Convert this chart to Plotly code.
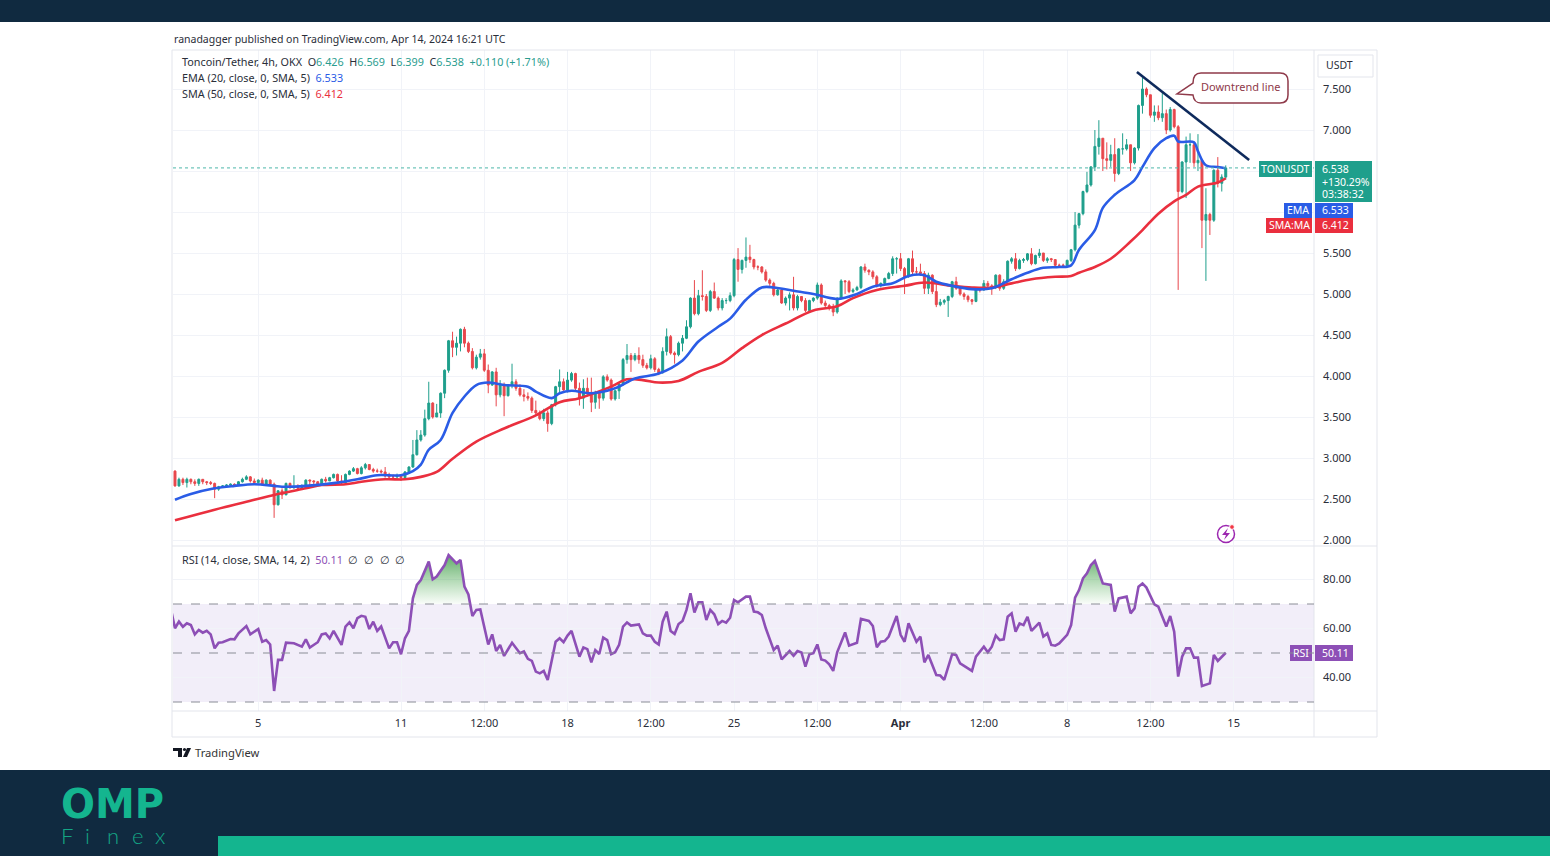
import plotly.graph_objects as go
from plotly.subplots import make_subplots

W, H = 1550, 856

# 4h candles, one value per bar
closes = [
    2.66, 2.74, 2.70, 2.74, 2.71, 2.69, 2.74, 2.71, 2.70, 2.69,
    2.62, 2.65, 2.66, 2.67, 2.68, 2.67, 2.71, 2.74, 2.77, 2.72,
    2.70, 2.73, 2.68, 2.73, 2.68, 2.43, 2.60, 2.55, 2.69, 2.64,
    2.65, 2.63, 2.64, 2.73, 2.72, 2.71, 2.68, 2.74, 2.72, 2.76,
    2.80, 2.72, 2.70, 2.80, 2.84, 2.87, 2.81, 2.88, 2.92, 2.86,
    2.84, 2.84, 2.83, 2.78, 2.77, 2.77, 2.78, 2.76, 2.83, 2.89,
    3.04, 3.22, 3.28, 3.48, 3.67, 3.50, 3.55, 3.79, 4.07, 4.43,
    4.35, 4.40, 4.57, 4.40, 4.30, 4.10, 4.23, 4.27, 4.07, 3.89,
    4.05, 3.77, 3.89, 3.76, 3.89, 3.93, 3.85, 3.77, 3.75, 3.73,
    3.58, 3.55, 3.48, 3.55, 3.42, 3.65, 3.87, 3.93, 3.83, 3.95,
    4.03, 3.85, 3.73, 3.85, 3.80, 3.68, 3.80, 3.73, 3.99, 3.95,
    3.72, 3.82, 3.90, 4.20, 4.25, 4.20, 4.25, 4.20, 4.13, 4.10,
    4.21, 4.08, 4.04, 4.30, 4.48, 4.28, 4.26, 4.40, 4.46, 4.60,
    4.95, 4.76, 4.98, 4.97, 4.80, 5.03, 4.95, 4.83, 4.92, 4.92,
    4.98, 5.42, 5.30, 5.41, 5.45, 5.42, 5.33, 5.33, 5.27, 5.17,
    5.13, 4.99, 5.05, 4.89, 4.95, 4.99, 4.83, 4.97, 4.92, 4.80,
    4.92, 4.95, 5.11, 4.89, 4.86, 4.84, 4.78, 4.95, 5.16, 5.15,
    5.03, 5.05, 5.08, 5.33, 5.29, 5.27, 5.21, 5.10, 5.13, 5.19,
    5.25, 5.43, 5.43, 5.31, 5.21, 5.43, 5.27, 5.27, 5.25, 5.07,
    5.23, 5.03, 4.87, 4.90, 4.92, 4.97, 5.15, 5.07, 5.00, 4.97,
    4.93, 4.91, 5.06, 5.05, 5.13, 5.10, 5.08, 5.23, 5.07, 5.15,
    5.40, 5.43, 5.31, 5.41, 5.42, 5.49, 5.37, 5.47, 5.50, 5.41,
    5.43, 5.42, 5.35, 5.35, 5.35, 5.41, 5.54, 5.84, 5.98, 6.25,
    6.33, 6.55, 6.80, 6.90, 6.65, 6.63, 6.70, 6.47, 6.77, 6.77,
    6.82, 6.60, 6.78, 7.30, 7.50, 7.43, 7.18, 7.22, 7.15, 7.20,
    7.00, 7.25, 7.04, 6.25, 6.61, 6.82, 6.82, 6.60, 6.63, 5.90,
    5.97, 5.90, 6.51, 6.35, 6.426, 6.538,
]
highs = [
    2.85, 2.76, 2.76, 2.76, 2.75, 2.74, 2.75, 2.74, 2.72, 2.72,
    2.70, 2.66, 2.67, 2.68, 2.69, 2.69, 2.72, 2.76, 2.79, 2.78,
    2.75, 2.74, 2.76, 2.74, 2.74, 2.70, 2.61, 2.63, 2.70, 2.70,
    2.79, 2.68, 2.68, 2.74, 2.74, 2.73, 2.72, 2.75, 2.77, 2.77,
    2.81, 2.81, 2.79, 2.81, 2.85, 2.89, 2.88, 2.90, 2.94, 2.92,
    2.88, 2.87, 2.86, 2.89, 2.82, 2.80, 2.81, 2.80, 2.84, 2.90,
    3.22, 3.34, 3.34, 3.59, 3.93, 3.68, 3.66, 3.80, 4.08, 4.44,
    4.54, 4.48, 4.58, 4.60, 4.42, 4.34, 4.26, 4.33, 4.33, 4.14,
    4.06, 4.10, 3.95, 3.92, 3.90, 4.15, 3.96, 3.90, 3.84, 3.80,
    3.75, 3.70, 3.58, 3.60, 3.58, 3.66, 3.88, 4.08, 3.97, 4.05,
    4.05, 4.04, 3.92, 3.96, 3.98, 3.98, 3.82, 3.82, 4.01, 4.02,
    3.97, 3.83, 3.92, 4.22, 4.39, 4.28, 4.28, 4.35, 4.26, 4.16,
    4.26, 4.23, 4.10, 4.35, 4.58, 4.50, 4.30, 4.42, 4.50, 4.68,
    4.96, 5.17, 5.05, 5.29, 5.00, 5.05, 5.14, 4.97, 4.95, 4.95,
    5.02, 5.44, 5.56, 5.42, 5.69, 5.60, 5.43, 5.35, 5.34, 5.30,
    5.19, 5.15, 5.08, 5.07, 4.97, 5.02, 5.21, 4.99, 4.97, 4.95,
    4.93, 4.96, 5.14, 5.13, 4.92, 4.88, 4.88, 4.96, 5.18, 5.17,
    5.17, 5.07, 5.10, 5.34, 5.37, 5.30, 5.29, 5.23, 5.14, 5.20,
    5.27, 5.46, 5.45, 5.50, 5.33, 5.44, 5.53, 5.33, 5.37, 5.28,
    5.26, 5.24, 5.13, 4.94, 4.94, 4.98, 5.16, 5.21, 5.08, 5.02,
    4.99, 4.94, 5.07, 5.08, 5.17, 5.16, 5.12, 5.24, 5.24, 5.18,
    5.41, 5.45, 5.50, 5.43, 5.44, 5.50, 5.56, 5.48, 5.55, 5.50,
    5.45, 5.44, 5.42, 5.37, 5.37, 5.42, 5.55, 6.00, 5.99, 6.26,
    6.49, 6.56, 7.00, 7.12, 6.90, 6.85, 6.82, 6.90, 6.78, 6.96,
    6.89, 6.82, 6.79, 7.31, 7.64, 7.52, 7.43, 7.30, 7.30, 7.45,
    7.25, 7.28, 7.26, 7.06, 6.62, 6.92, 6.96, 6.85, 6.95, 6.64,
    6.29, 5.99, 6.52, 6.67, 6.46, 6.569,
]
lows = [
    2.65, 2.65, 2.67, 2.64, 2.68, 2.66, 2.66, 2.68, 2.67, 2.67,
    2.51, 2.60, 2.64, 2.65, 2.66, 2.66, 2.66, 2.70, 2.73, 2.70,
    2.69, 2.69, 2.66, 2.67, 2.66, 2.27, 2.42, 2.50, 2.55, 2.62,
    2.62, 2.61, 2.62, 2.63, 2.67, 2.65, 2.66, 2.67, 2.70, 2.72,
    2.75, 2.70, 2.67, 2.69, 2.79, 2.83, 2.80, 2.80, 2.86, 2.85,
    2.82, 2.82, 2.81, 2.76, 2.74, 2.75, 2.74, 2.72, 2.74, 2.82,
    2.88, 3.03, 3.20, 3.26, 3.46, 3.48, 3.50, 3.49, 3.73, 4.04,
    4.23, 4.25, 4.30, 4.35, 4.28, 4.08, 4.08, 4.20, 4.05, 3.79,
    3.88, 3.63, 3.74, 3.51, 3.75, 3.85, 3.82, 3.75, 3.69, 3.70,
    3.55, 3.52, 3.46, 3.45, 3.32, 3.40, 3.63, 3.78, 3.82, 3.80,
    3.93, 3.82, 3.64, 3.60, 3.75, 3.56, 3.60, 3.60, 3.70, 3.93,
    3.70, 3.70, 3.72, 3.88, 4.15, 4.05, 4.18, 4.15, 4.10, 4.08,
    4.08, 4.05, 4.01, 4.03, 4.25, 4.26, 4.15, 4.24, 4.30, 4.45,
    4.58, 4.74, 4.74, 4.92, 4.78, 4.78, 4.94, 4.80, 4.80, 4.88,
    4.90, 4.96, 5.15, 5.25, 5.32, 5.38, 5.30, 5.29, 5.25, 5.15,
    5.10, 4.97, 4.98, 4.88, 4.86, 4.80, 4.80, 4.80, 4.90, 4.78,
    4.78, 4.90, 4.93, 4.87, 4.83, 4.80, 4.73, 4.76, 4.94, 5.00,
    5.01, 5.01, 5.04, 5.06, 5.26, 5.23, 5.18, 5.08, 5.08, 5.12,
    5.18, 5.22, 5.25, 5.28, 5.00, 5.20, 5.24, 5.24, 5.22, 5.00,
    5.00, 5.00, 4.84, 4.85, 4.87, 4.72, 4.95, 5.05, 4.98, 4.93,
    4.90, 4.87, 4.90, 5.02, 5.04, 5.06, 4.99, 5.06, 5.04, 5.05,
    5.14, 5.37, 5.28, 5.30, 5.38, 5.40, 5.35, 5.36, 5.44, 5.39,
    5.38, 5.39, 5.33, 5.32, 5.32, 5.33, 5.39, 5.52, 5.80, 5.96,
    6.23, 6.31, 6.50, 6.70, 6.50, 6.52, 6.55, 6.37, 6.45, 6.70,
    6.75, 6.50, 6.58, 6.75, 7.20, 7.40, 7.15, 7.10, 7.12, 7.10,
    6.95, 6.98, 7.02, 5.05, 6.23, 6.17, 6.60, 6.55, 6.50, 5.56,
    5.16, 5.72, 5.88, 6.30, 6.25, 6.399,
]
first_open = 2.84

# moving averages, read at the bars where the curve bends
ema_bars = [0, 4, 10, 15, 20, 25, 27, 33, 41, 46, 51, 57, 60, 62, 64, 67, 70, 73, 76, 79, 83,
            89, 91, 95, 97, 100, 105, 111, 116, 122, 128, 132, 137, 140, 144, 148, 151, 156,
            161, 167, 172, 176, 181, 185, 189, 192, 196, 201, 206, 211, 215, 219, 223, 226,
            228, 232, 234, 237, 242, 244, 247, 250, 252, 253, 257, 258, 260, 263, 265]
ema_vals = [2.49, 2.56, 2.63, 2.66, 2.68, 2.66, 2.65, 2.66, 2.70, 2.74, 2.79, 2.79, 2.84, 2.92,
            3.10, 3.22, 3.55, 3.75, 3.89, 3.92, 3.89, 3.87, 3.81, 3.73, 3.79, 3.82, 3.79, 3.85,
            3.97, 4.03, 4.19, 4.42, 4.60, 4.70, 4.93, 5.08, 5.08, 5.04, 5.00, 4.94, 5.00, 5.09,
            5.13, 5.22, 5.23, 5.15, 5.10, 5.06, 5.07, 5.18, 5.26, 5.32, 5.33, 5.35, 5.54, 5.78,
            6.05, 6.21, 6.39, 6.55, 6.78, 6.90, 6.93, 6.86, 6.85, 6.74, 6.57, 6.55, 6.533]
sma_bars = [0, 10, 20, 25, 33, 37, 43, 47, 53, 58, 62, 66, 70, 76, 83, 91, 97, 102, 110, 114,
            118, 122, 127, 132, 138, 143, 148, 154, 161, 167, 171, 177, 184, 189, 196, 201,
            206, 211, 216, 222, 226, 228, 232, 236, 241, 244, 248, 252, 255, 258, 263, 265]
sma_vals = [2.24, 2.37, 2.49, 2.55, 2.63, 2.67, 2.68, 2.71, 2.74, 2.74, 2.77, 2.83, 2.99, 3.20,
            3.36, 3.52, 3.68, 3.73, 3.87, 3.96, 3.95, 3.92, 3.94, 4.05, 4.16, 4.34, 4.50, 4.64,
            4.80, 4.85, 4.95, 5.05, 5.10, 5.14, 5.10, 5.08, 5.08, 5.13, 5.18, 5.21, 5.22, 5.26,
            5.33, 5.43, 5.64, 5.78, 5.98, 6.13, 6.21, 6.31, 6.36, 6.412]

# RSI turning points
rsi_bars = [-1, 0, 1, 2, 3, 4, 5, 6, 7, 8, 9, 10, 11, 12, 14, 15, 16, 18, 19, 21, 22, 23, 24, 25,
            26, 27, 28, 30, 32, 33, 34, 36, 37, 38, 39, 40, 42, 43, 44, 45, 46, 47, 48, 49, 50,
            51, 52, 54, 55, 56, 57, 58, 59, 60, 61, 62, 64, 65, 66, 68, 69, 71, 72, 73, 74, 75,
            76, 77, 79, 80, 81, 82, 83, 85, 87, 88, 89, 90, 91, 92, 93, 94, 96, 97, 98, 99, 100,
            102, 103, 104, 105, 106, 107, 108, 109, 110, 111, 112, 113, 114, 115, 117, 118, 119,
            120, 121, 122, 123, 124, 125, 126, 127, 128, 129, 130, 131, 132, 133, 134, 135, 136,
            137, 138, 139, 140, 141, 142, 144, 145, 146, 147, 148, 149, 150, 151, 152, 153, 155,
            156, 157, 158, 159, 160, 161, 162, 163, 164, 165, 166, 167, 169, 170, 172, 173, 175,
            176, 177, 178, 179, 180, 182, 183, 184, 185, 186, 187, 188, 189, 190, 192, 193, 194,
            196, 197, 198, 201, 202, 204, 205, 206, 207, 208, 209, 210, 211, 212, 213, 214, 215,
            216, 218, 219, 220, 221, 222, 223, 225, 226, 227, 228, 229, 230, 231, 232, 234, 236,
            237, 238, 240, 241, 242, 243, 244, 245, 247, 248, 250, 251, 252, 253, 254, 255, 256,
            257, 258, 259, 261, 262, 263, 265]
rsi_vals = [67.6, 60.1, 62.8, 60.7, 62.1, 61.4, 57.6, 59.4, 58.3, 59.1, 57.6, 51.9, 54.2, 54.4,
            55.7, 55.6, 58.0, 61.0, 57.6, 59.8, 54.6, 55.3, 53.5, 34.5, 47.2, 47.2, 54.2, 54.0,
            52.6, 55.6, 52.2, 54.4, 57.6, 58.0, 56.0, 59.0, 53.3, 60.8, 62.5, 60.1, 64.2, 65.2,
            64.8, 59.8, 62.8, 59.0, 60.8, 51.9, 54.4, 54.4, 49.5, 56.0, 59.0, 72.3, 77.8, 79.8,
            87.3, 80.1, 81.2, 85.9, 90.0, 86.6, 88.0, 77.1, 73.9, 65.1, 67.6, 67.8, 53.5, 57.6,
            50.8, 53.3, 48.8, 54.2, 49.9, 50.6, 47.6, 46.8, 42.4, 41.7, 42.7, 39.0, 54.6, 56.0,
            54.4, 57.1, 59.0, 48.5, 52.3, 51.6, 46.2, 51.2, 49.6, 56.3, 55.3, 49.5, 50.3, 53.3,
            60.8, 62.5, 61.2, 61.7, 58.0, 57.1, 57.1, 54.6, 53.5, 62.8, 66.9, 59.0, 57.8, 61.8,
            63.1, 67.6, 74.4, 66.5, 70.7, 70.7, 63.5, 67.6, 65.8, 61.8, 63.1, 62.4, 64.4, 71.6,
            70.7, 73.0, 73.0, 66.9, 66.6, 65.5, 60.1, 56.0, 51.2, 53.0, 47.4, 50.8, 48.9, 50.8,
            50.2, 44.4, 49.5, 49.9, 53.5, 47.4, 46.9, 45.4, 42.7, 50.3, 58.4, 53.0, 54.2, 63.9,
            63.1, 61.0, 52.3, 54.6, 54.9, 56.7, 65.1, 57.4, 54.6, 62.1, 58.0, 54.6, 56.7, 46.2,
            49.2, 41.0, 40.8, 39.0, 49.5, 49.2, 45.8, 42.7, 48.5, 52.6, 50.3, 52.6, 57.1, 55.3,
            55.6, 64.8, 66.2, 58.7, 62.1, 61.4, 64.8, 59.0, 62.4, 56.7, 58.0, 53.3, 53.0, 53.9,
            57.4, 61.4, 72.6, 75.7, 80.5, 82.5, 85.9, 87.6, 78.4, 77.8, 66.9, 72.3, 73.0, 66.2,
            68.2, 77.1, 78.4, 76.7, 69.9, 68.9, 60.8, 65.1, 58.7, 40.4, 48.5, 51.9, 51.9, 48.1,
            48.1, 36.5, 37.6, 49.2, 46.8, 50.11]

# hand drawn trend line
trend_bars = [242.6, 270.9]
trend_vals = [7.707, 6.634]

# time axis
tick_bars = [21, 57, 78, 99, 120, 141, 162, 183, 204, 225, 246, 267]
tick_text = ['5', '11', '12:00', '18', '12:00', '25', '12:00', '<b>Apr</b>', '12:00', '8', '12:00', '15']
price_ticks = [2.0, 2.5, 3.0, 3.5, 4.0, 4.5, 5.0, 5.5, 6.0, 6.5, 7.0, 7.5]
rsi_ticks = [40, 60, 80]
last_price = 6.538

assert len(closes) == len(highs) == len(lows) == 266
assert len(ema_bars) == len(ema_vals)
assert len(sma_bars) == len(sma_vals)
assert len(rsi_bars) == len(rsi_vals)

FONT = 'Noto Sans'
NAVY = '#102a40'
TEAL = '#14b58f'
UP = '#1f9f8c'
DOWN = '#e8474c'
BLUE = '#2a5ce6'
RED = '#ea2f3e'
PURPLE = '#8d4fb6'
GRID = '#f1f3f8'
FRAME = '#e3e5ec'
TEXT = '#2a2e39'


def px_x(x):
    return x / W


def px_y(y):
    return 1 - y / H


def rect(x0, y0, x1, y1, fill, line=None, layer='above'):
    return dict(type='rect', xref='paper', yref='paper', layer=layer,
                x0=px_x(x0), x1=px_x(x1), y0=px_y(y0), y1=px_y(y1),
                fillcolor=fill, line=dict(color=line or fill, width=1 if line else 0))


def hline(x0, x1, y, color=FRAME, layer='above'):
    return dict(type='line', xref='paper', yref='paper', layer=layer,
                x0=px_x(x0), x1=px_x(x1), y0=px_y(y), y1=px_y(y), line=dict(color=color, width=1))


def vline(x, y0, y1, color=FRAME):
    return dict(type='line', xref='paper', yref='paper',
                x0=px_x(x), x1=px_x(x), y0=px_y(y0), y1=px_y(y1), line=dict(color=color, width=1))


def path(cmds, fill, line=None, width=1.5):
    parts = []
    for c in cmds:
        coords = [f'{px_x(c[i])} {px_y(c[i + 1])}' for i in range(1, len(c), 2)]
        parts.append(c[0] + ' ' + ' '.join(coords))
    return dict(type='path', xref='paper', yref='paper', path=' '.join(parts) + ' Z',
                fillcolor=fill, line=dict(color=line or fill, width=width if line else 0))


def circle(cx, cy, r, fill, line, width=1.5):
    return dict(type='circle', xref='paper', yref='paper',
                x0=px_x(cx - r), x1=px_x(cx + r), y0=px_y(cy + r), y1=px_y(cy - r),
                fillcolor=fill, line=dict(color=line, width=width))


def note(x, y, text, size=11, color=TEXT, anchor='left', family=FONT, weight=None):
    font = dict(family=family, size=size, color=color)
    if weight:
        font['weight'] = weight
    return dict(xref='paper', yref='paper', x=px_x(x), y=px_y(y), text=text, showarrow=False,
                xanchor=anchor, yanchor='middle', borderpad=0, font=font)


def span(text, color):
    return f'<span style="color:{color}">{text}</span>'


def overbought(start, stop):
    bars = [start] + [b for b in rsi_bars if start < b < stop] + [stop]
    vals = [70] + [v for b, v in zip(rsi_bars, rsi_vals) if start < b < stop] + [70]
    return bars, vals


fig = make_subplots(rows=2, cols=1, shared_xaxes=True)

opens = [first_open] + closes[:-1]
fig.add_trace(go.Candlestick(x=list(range(len(closes))), open=opens, high=highs, low=lows, close=closes,
                             whiskerwidth=0,
                             increasing=dict(line=dict(color=UP, width=1), fillcolor=UP),
                             decreasing=dict(line=dict(color=DOWN, width=1), fillcolor=DOWN)),
              row=1, col=1)
fig.add_trace(go.Scatter(x=sma_bars, y=sma_vals, mode='lines', line=dict(color=RED, width=2.6, shape='spline', smoothing=1)),
              row=1, col=1)
fig.add_trace(go.Scatter(x=ema_bars, y=ema_vals, mode='lines', line=dict(color=BLUE, width=2.6, shape='spline', smoothing=1)),
              row=1, col=1)
fig.add_trace(go.Scatter(x=trend_bars, y=trend_vals, mode='lines', line=dict(color='#0e2a5c', width=2.6)),
              row=1, col=1)

# green fill above the 70 line
for start, stop in [(59.83, 74.44), (226.77, 236.72)]:
    bars, vals = overbought(start, stop)
    fig.add_trace(go.Scatter(x=bars, y=[70] * len(bars), mode='lines', line=dict(width=0)), row=2, col=1)
    fig.add_trace(go.Scatter(x=bars, y=vals, mode='lines', line=dict(width=0), fill='tonexty',
                             fillgradient=dict(type='vertical', start=70, stop=90,
                                               colorscale=[[0, 'rgba(76,175,80,0.03)'], [1, 'rgba(56,150,66,0.8)']])),
                  row=2, col=1)
fig.add_trace(go.Scatter(x=rsi_bars, y=rsi_vals, mode='lines', line=dict(color=PURPLE, width=2.6)), row=2, col=1)

shapes = [
    # page bands
    rect(0, 0, W, 22, NAVY),
    rect(0, 770, W, H, NAVY),
    rect(218, 836, W, H, TEAL),
    # chart frame
    hline(172, 1377, 50),
    hline(172, 1377, 546),
    hline(172, 1377, 711),
    hline(172, 1377, 737),
    vline(172, 50, 737),
    vline(1377, 50, 737),
    vline(1314, 50, 737),
    # USDT box
    rect(1318, 55, 1373, 77, 'white', FRAME),
    # last price line
    dict(type='line', xref='paper', yref='y', x0=px_x(173), x1=px_x(1314), y0=last_price, y1=last_price,
         line=dict(color='#4db6a9', width=1, dash='dot')),
    # RSI band
    dict(type='rect', xref='paper', yref='y2', layer='below', x0=px_x(173), x1=px_x(1314), y0=30, y1=70,
         fillcolor='rgba(126,87,194,0.1)', line=dict(width=0)),
    # price tags
    rect(1259, 161, 1312, 177, UP),
    rect(1315, 161, 1372, 202, UP),
    rect(1284, 203, 1312, 218, BLUE),
    rect(1315, 203, 1353, 218, BLUE),
    rect(1266, 218, 1312, 233, RED),
    rect(1315, 218, 1353, 233, RED),
    rect(1290, 645, 1312, 661, PURPLE),
    rect(1315, 645, 1353, 661, PURPLE),
    # callout
    path([('M', 1201, 73), ('L', 1280, 73), ('Q', 1288, 73, 1288, 81), ('L', 1288, 95),
          ('Q', 1288, 103, 1280, 103), ('L', 1201, 103), ('Q', 1194, 103, 1193, 95),
          ('L', 1177, 94), ('L', 1193, 83), ('Q', 1193, 73, 1201, 73)], 'white', '#8f3a4a'),
    # bolt badge
    circle(1226, 534, 8.5, 'white', '#9c27b0'),
    path([('M', 1228, 528), ('L', 1222, 535), ('L', 1226, 535), ('L', 1224, 540),
          ('L', 1230, 533), ('L', 1226, 533)], '#9c27b0'),
    circle(1232, 527, 2.4, '#f23645', 'white', 1),
    # TradingView mark
    path([('M', 173, 748), ('L', 182, 748), ('L', 182, 757), ('L', 178, 757), ('L', 178, 751), ('L', 173, 751)], '#131722'),
    circle(184.5, 749.5, 1.6, '#131722', '#131722', 0),
    path([('M', 187, 748), ('L', 191, 748), ('L', 187, 757), ('L', 183, 757)], '#131722'),
]
for level in [70, 50, 30]:
    shapes.append(dict(type='line', xref='paper', yref='y2', x0=px_x(173), x1=px_x(1314), y0=level, y1=level,
                       line=dict(color='#8a8d96', width=1, dash='dash')))

quote = '#2a9d8f'
gap = '\u00a0\u00a0'
annotations = [
    note(173, 39, 'ranadagger published on TradingView.com, Apr 14, 2024 16:21 UTC', 10.5),
    note(180.5, 62, 'Toncoin/Tether, 4h, OKX' + gap + 'O' + span('6.426', quote) + gap + 'H' + span('6.569', quote)
         + gap + 'L' + span('6.399', quote) + gap + 'C' + span('6.538', quote) + gap + span('+0.110 (+1.71%)', quote), 10.8),
    note(180.5, 78, 'EMA (20, close, 0, SMA, 5)' + gap + span('6.533', BLUE), 10.8),
    note(180.5, 94, 'SMA (50, close, 0, SMA, 5)' + gap + span('6.412', RED), 10.8),
    note(180.5, 559, 'RSI (14, close, SMA, 14, 2)' + gap + span('50.11', PURPLE) + gap + '∅' + gap + '∅' + gap + '∅' + gap + '∅', 10.8),
    note(1339, 65.5, 'USDT', 10.5, anchor='center'),
    note(1241, 87, 'Downtrend line', 11, '#8f3a4a', anchor='center'),
    note(1285.5, 168.5, 'TONUSDT', 10.5, 'white', anchor='center'),
    note(1321, 168.5, '6.538', 10.5, 'white'),
    note(1321, 181.5, '+130.29%', 10.5, 'white'),
    note(1321, 194, '03:38:32', 10.5, 'white'),
    note(1298, 210, 'EMA', 10.5, 'white', anchor='center'),
    note(1321, 210, '6.533', 10.5, 'white'),
    note(1289, 225.5, 'SMA:MA', 10.5, 'white', anchor='center'),
    note(1321, 225.5, '6.412', 10.5, 'white'),
    note(1301, 652.5, 'RSI', 10.5, 'white', anchor='center'),
    note(1321, 652.5, '50.11', 10.5, 'white'),
    note(194, 752, 'TradingView', 11.2, '#333333'),
    note(112.5, 804, '<b>OMP</b>', 40, TEAL, anchor='center', family='DejaVu Sans'),
]
for letter, x in zip('Finex', [67, 87, 113, 137, 160]):
    annotations.append(note(x, 835, letter, 22, '#14a585', anchor='center', family='Lato', weight=300))

# the drawn page comes out 2px shorter than layout.height
fig.update_layout(
    width=W, height=H + 2, margin=dict(l=0, r=0, t=0, b=0), autosize=False,
    paper_bgcolor='white', plot_bgcolor='white', showlegend=False, hovermode=False,
    font=dict(family=FONT, size=11, color=TEXT),
    shapes=shapes, annotations=annotations,
)
x_range = [-0.504, 287.26]
fig.update_xaxes(domain=[px_x(173), px_x(1314)], range=x_range, tickmode='array', tickvals=tick_bars, ticktext=tick_text,
                 showgrid=True, gridcolor=GRID, zeroline=False, showline=False, ticks='', rangeslider_visible=False)
fig.update_xaxes(showticklabels=False, row=1, col=1)
fig.update_xaxes(showticklabels=True, tickfont=dict(size=11, color=TEXT), ticklabelstandoff=4, row=2, col=1)
fig.update_yaxes(side='right', showgrid=True, gridcolor=GRID, zeroline=False, showline=False, ticks='',
                 tickfont=dict(size=11, color=TEXT), ticklabelstandoff=8)
fig.update_yaxes(domain=[px_y(545), px_y(50)], range=[1.939, 7.976], tickmode='array', tickvals=price_ticks,
                 tickformat='.3f', row=1, col=1)
fig.update_yaxes(domain=[px_y(711), px_y(547)], range=[26.33, 93.27], tickmode='array', tickvals=rsi_ticks,
                 tickformat='.2f', row=2, col=1)

fig.write_html("out.html", config=dict(displayModeBar=False),
               post_script="document.body.style.margin='0';document.documentElement.style.overflow='hidden';")
